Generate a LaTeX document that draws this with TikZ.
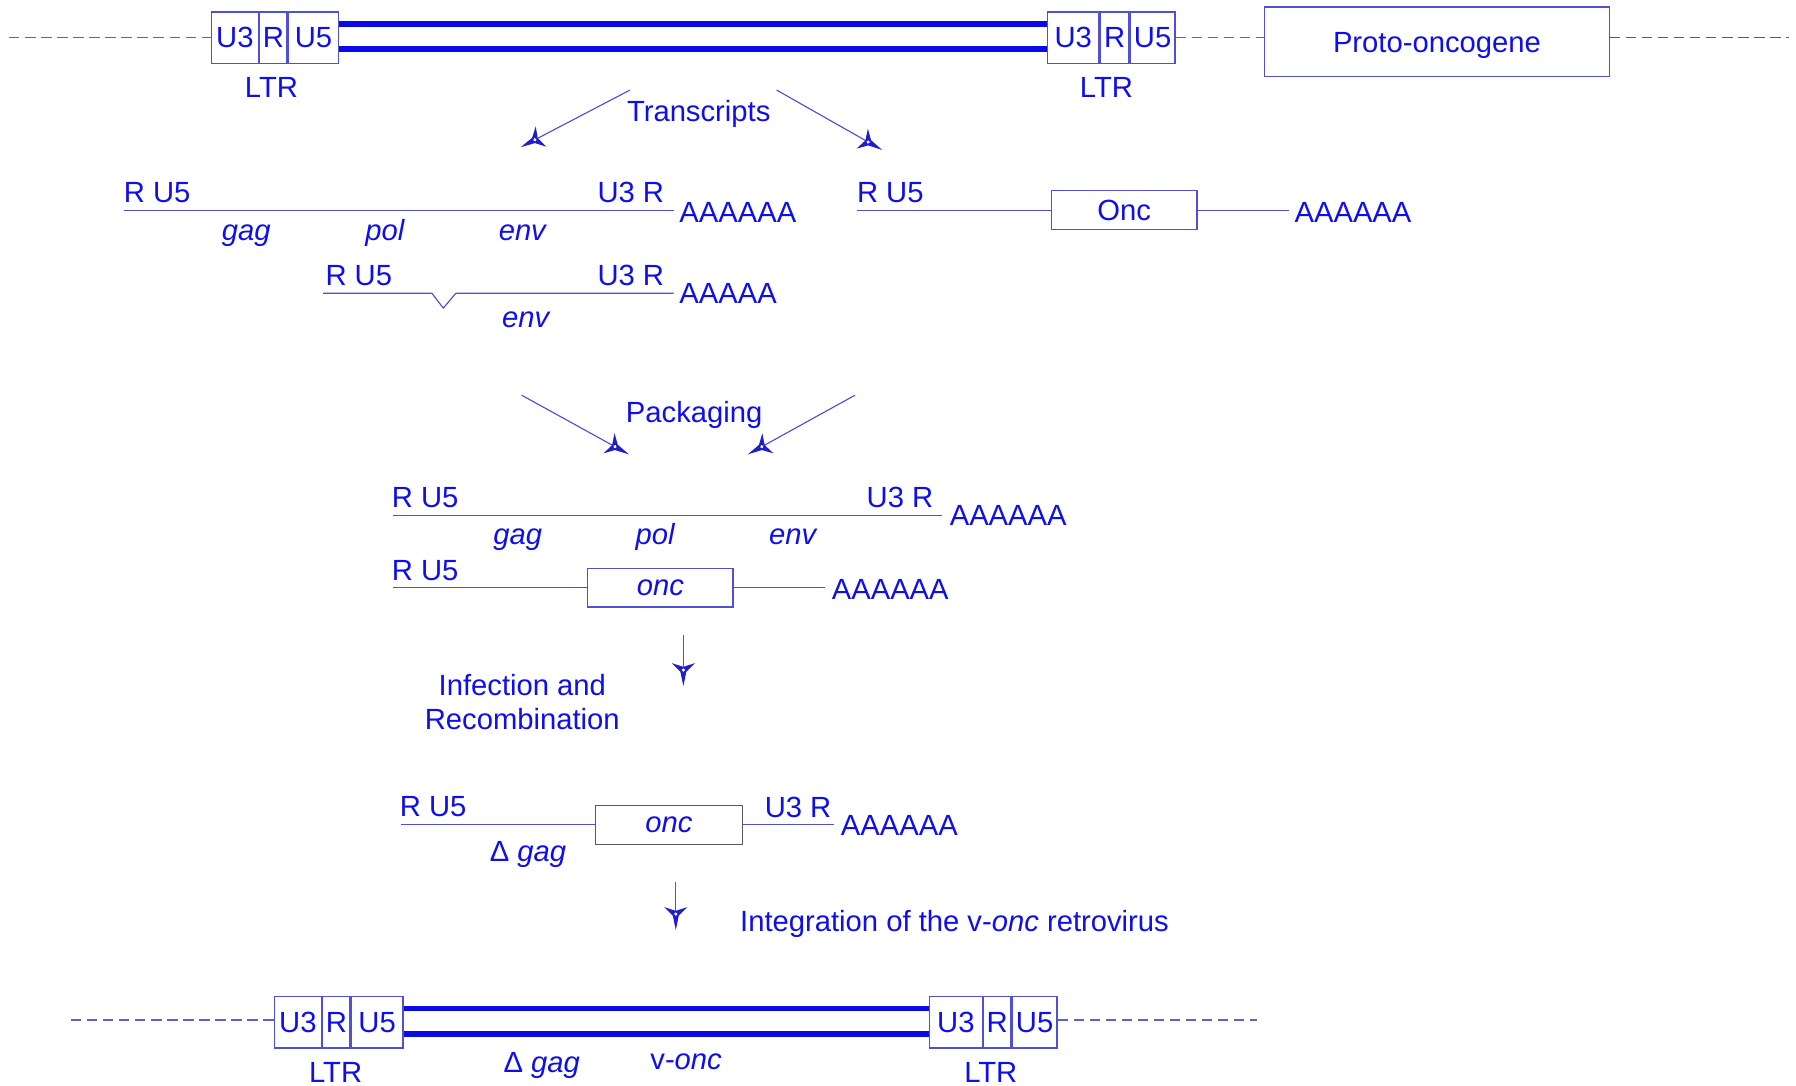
\documentclass[tikz,border=0pt]{standalone}
\usepackage{fontspec}
\setmainfont{Liberation Sans}
\usetikzlibrary{decorations.markings}
\definecolor{txt}{RGB}{15,15,235}
\definecolor{thinc}{RGB}{80,80,215}
\definecolor{thickc}{RGB}{10,10,230}
\definecolor{dshc}{RGB}{95,95,205}
\definecolor{dshgray}{RGB}{90,90,105}
\definecolor{aheadc}{RGB}{30,30,205}
\definecolor{boxgray}{RGB}{90,90,90}
\newcommand\drawtriad{%
  \fill[aheadc] (14,0) -- (1.4,2.6) -- (-6,10) -- (-2.8,0) -- (-6,-10) -- (1.4,-2.6) -- cycle;
  \fill[white] (0,0) circle (1.5pt);}
\tikzset{
  lbl/.style={text=txt, inner sep=0pt, font=\fontsize{25.5}{30}\selectfont},
  cell/.style={draw=thinc, line width=1.1pt, text=txt, inner sep=0pt, minimum height=45pt,
    anchor=west, font=\fontsize{25.5}{30}\selectfont},
  genebox/.style={draw=thinc, line width=1.1pt, text=txt, inner sep=0pt,
    font=\fontsize{25.5}{30}\selectfont},
  seq/.style={draw=thinc, line width=1pt},
  dashline/.style={draw=dshc, line width=1pt, dash pattern=on 9pt off 5pt},
  thk/.style={draw=thickc, line width=5pt},
  tri/.style={draw=thinc, line width=1pt, postaction={decorate},
    decoration={markings, mark=at position 1 with {\drawtriad}}},
}
\begin{document}
\begin{tikzpicture}[x=1pt, y=-1pt]
\useasboundingbox[fill=white] (0,0) rectangle (1568,948);

% ---------- top provirus ----------
\node[cell, minimum width=41pt] (tl1) at (184,33) {U3};
\node[cell, minimum width=24pt] (tl2) at (tl1.east) {R};
\node[cell, minimum width=44pt] (tl3) at (tl2.east) {U5};
\node[cell, minimum width=45pt] (tr1) at (914,33) {U3};
\node[cell, minimum width=25pt] (tr2) at (tr1.east) {R};
\node[cell, minimum width=39pt] (tr3) at (tr2.east) {U5};
\draw[thk] ([yshift=-11pt]tl3.north east) -- ([yshift=-11pt]tr1.north west);
\draw[thk] ([yshift=-33pt]tl3.north east) -- ([yshift=-33pt]tr1.north west);
\node[genebox, minimum width=301pt, minimum height=61pt, text height=18pt, text depth=0pt] (proto) at (1254.5,36.5) {Proto-oncogene};
\coordinate (d1) at (8,32.5);
\coordinate (d2) at (1562,32.5);
\draw[dashline] (d1) -- (d1 -| tl1.west);
\draw[dashline] (d1 -| tr3.east) -- (d1 -| proto.west);
\draw[dashline, draw=dshgray] (d1 -| proto.east) -- (d2);
\node[lbl, anchor=base] (ltr1) at (237,85) {LTR};
\node[lbl, anchor=base] (ltr2) at (966,85) {LTR};

% ---------- transcripts ----------
\node[lbl, anchor=base] (trs) at (610,106) {Transcripts};
\coordinate (a1s) at (550,78.6);
\coordinate (a1e) at (467,122);
\coordinate (a2s) at (678,78.6);
\coordinate (a2e) at (758,124);
\draw[tri] (a1s) -- (a1e);
\draw[tri] (a2s) -- (a2e);

% row 1
\coordinate (r1a) at (108,184);
\coordinate (r1b) at (588,184);
\draw[seq] (r1a) -- (r1b);
\node[lbl, anchor=base west] (r1l) at (108,177) {R U5};
\node[lbl, anchor=base east] (r1r) at (580,177) {U3 R};
\node[lbl, anchor=base west] (r1p) at (593,194) {AAAAAA};
\node[lbl, anchor=base] (r1g) at (215,210) {\itshape gag};
\node[lbl, anchor=base] (r1o) at (336,210) {\itshape pol};
\node[lbl, anchor=base] (r1e) at (456,210) {\itshape env};

% row 2 (spliced env)
\coordinate (r2a) at (282,256);
\coordinate (r2n1) at (377,256);
\coordinate (r2n2) at (387,269);
\coordinate (r2n3) at (398,256);
\coordinate (r2b) at (588,256);
\draw[seq] (r2a) -- (r2n1) -- (r2n2) -- (r2n3) -- (r2b);
\node[lbl, anchor=base west] (r2l) at (284,249) {R U5};
\node[lbl, anchor=base east] (r2r) at (580,249) {U3 R};
\node[lbl, anchor=base west] (r2p) at (593,265) {AAAAA};
\node[lbl, anchor=base] (r2e) at (459,286) {\itshape env};

% Onc transcript
\node[genebox, minimum width=127pt, minimum height=34pt] (onc1) at (981.5,183.5) {Onc};
\coordinate (o1a) at (748,183.5);
\coordinate (o1b) at (1125,183.5);
\draw[seq] (o1a) -- (onc1.west);
\draw[seq] (onc1.east) -- (o1b);
\node[lbl, anchor=base west] (o1l) at (748,177) {R U5};
\node[lbl, anchor=base west] (o1p) at (1130,194) {AAAAAA};

% ---------- packaging ----------
\node[lbl, anchor=base] (pck) at (606,369) {Packaging};
\coordinate (p1s) at (455.4,345);
\coordinate (p1e) at (537,390);
\coordinate (p2s) at (746.5,345);
\coordinate (p2e) at (665,390);
\draw[tri] (p1s) -- (p1e);
\draw[tri] (p2s) -- (p2e);

% row A
\coordinate (raa) at (343,450);
\coordinate (rab) at (822,450);
\draw[seq] (raa) -- (rab);
\node[lbl, anchor=base west] (ral) at (342,443) {R U5};
\node[lbl, anchor=base east] (rar) at (815,443) {U3 R};
\node[lbl, anchor=base west] (rap) at (829,459) {AAAAAA};
\node[lbl, anchor=base] (rag) at (452,475) {\itshape gag};
\node[lbl, anchor=base] (rao) at (572,475) {\itshape pol};
\node[lbl, anchor=base] (rae) at (692,475) {\itshape env};

% row B
\node[genebox, minimum width=127pt, minimum height=34pt] (onc2) at (576.5,513) {\itshape onc};
\coordinate (rba) at (343,513);
\coordinate (rbb) at (720,513);
\draw[seq] (rba) -- (onc2.west);
\draw[seq] (onc2.east) -- (rbb);
\node[lbl, anchor=base west] (rbl) at (342,507) {R U5};
\node[lbl, anchor=base west] (rbp) at (726,523) {AAAAAA};

% ---------- infection ----------
\coordinate (i1s) at (596.6,554.4);
\coordinate (i1e) at (596.6,585);
\draw[tri] (i1s) -- (i1e);
\node[lbl, anchor=base] (inf1) at (456,607) {Infection and};
\node[lbl, anchor=base] (inf2) at (456,637) {Recombination};

% recombined
\node[genebox, draw=boxgray, minimum width=128pt, minimum height=34pt] (onc3) at (584,720) {\itshape onc};
\coordinate (rca) at (350,720);
\coordinate (rcb) at (728,720);
\draw[seq] (rca) -- (onc3.west);
\draw[seq] (onc3.east) -- (rcb);
\node[lbl, anchor=base west] (rcl) at (349,713) {R U5};
\node[lbl, anchor=base east] (rcr) at (726,714) {U3 R};
\node[lbl, anchor=base west] (rcp) at (734,729) {AAAAAA};
\node[lbl, anchor=base] (rcg) at (461,752) {Δ \itshape gag};

% ---------- integration ----------
\coordinate (g1s) at (590,770);
\coordinate (g1e) at (590,798);
\draw[tri] (g1s) -- (g1e);
\node[lbl, anchor=base west] (intg) at (646,813) {Integration of the v-\textit{onc} retrovirus};

% ---------- bottom provirus ----------
\node[cell, minimum width=41pt] (bl1) at (239,892.5) {U3};
\node[cell, minimum width=24pt] (bl2) at (bl1.east) {R};
\node[cell, minimum width=45pt] (bl3) at (bl2.east) {U5};
\node[cell, minimum width=46pt] (br1) at (811,892.5) {U3};
\node[cell, minimum width=24pt] (br2) at (br1.east) {R};
\node[cell, minimum width=39pt] (br3) at (br2.east) {U5};
\draw[thk] ([yshift=-11pt]bl3.north east) -- ([yshift=-11pt]br1.north west);
\draw[thk] ([yshift=-33pt]bl3.north east) -- ([yshift=-33pt]br1.north west);
\coordinate (d3) at (62,890.5);
\coordinate (d4) at (1097,890.5);
\draw[dashline] (d3) -- (d3 -| bl1.west);
\draw[dashline] (d3 -| br3.east) -- (d4);
\node[lbl, anchor=base] (ltr3) at (293,945) {LTR};
\node[lbl, anchor=base] (ltr4) at (865,945) {LTR};
\node[lbl, anchor=base] (bg) at (473,936) {Δ \itshape gag};
\node[lbl, anchor=base] (bv) at (599,934) {v-\textit{onc}};
\end{tikzpicture}
\end{document}
